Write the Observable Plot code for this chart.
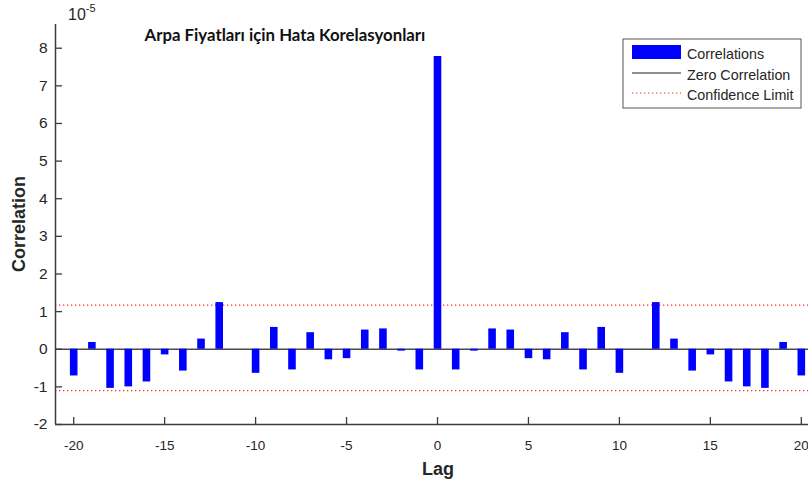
<!DOCTYPE html>
<html><head><meta charset="utf-8">
<script src="https://cdn.jsdelivr.net/npm/d3@7"></script>
<script src="https://cdn.jsdelivr.net/npm/@observablehq/plot@0.6"></script>
<style>html,body{margin:0;padding:0;background:#fff;overflow:hidden;}</style>
</head><body><div id="chart"></div>
<script>
// Correlation values are in units of 10^-5
const lags = [-20,-19,-18,-17,-16,-15,-14,-13,-12,-11,-10,-9,-8,-7,-6,-5,-4,-3,-2,-1,0,1,2,3,4,5,6,7,8,9,10,11,12,13,14,15,16,17,18,19,20];
const correlations = [-0.71,0.18,-1.04,-1.00,-0.87,-0.15,-0.58,0.27,1.24,0,-0.64,0.58,-0.55,0.44,-0.28,-0.25,0.51,0.54,-0.05,-0.55,7.78,-0.55,-0.05,0.54,0.51,-0.25,-0.28,0.44,-0.55,0.58,-0.64,0,1.24,0.27,-0.58,-0.15,-0.87,-1.00,-1.04,0.18,-0.71];
const confidenceLimits = [1.17, -1.10];
const zeroLine = [0];
const xTicks = [-20,-15,-10,-5,0,5,10,15,20];
const yTicks = [-2,-1,0,1,2,3,4,5,6,7,8];
const titleText = "Arpa Fiyatları için Hata Korelasyonları";
const xLabel = "Lag";
const yLabel = "Correlation";
const exponentBase = "10";
const exponentPower = "-5";
const legendLabels = ["Correlations", "Zero Correlation", "Confidence Limit"];

const data = lags.map((lag, i) => ({lag, value: correlations[i]}));
const axisColor = "#3c3c3c";
const textColor = "#262626";
const W = 808, H = 484, ML = 55, MT = 24, MB = 60;
const fmt = d => String(d);

const chart = Plot.plot({
  width: W, height: H,
  marginLeft: ML, marginRight: 0, marginTop: MT, marginBottom: MB,
  style: {fontFamily: "'Liberation Sans', Arial, sans-serif", fontSize: "14px", color: textColor, background: "#fff", overflow: "hidden"},
  x: {domain: [-21, 21], range: [55, 819]},
  y: {domain: [-2, 8.63], range: [424, 24]},
  marks: [
    Plot.ruleY(confidenceLimits, {stroke: "#ff2a2a", strokeWidth: 1.3, strokeDasharray: "1.3,2.7"}),
    Plot.ruleY(zeroLine, {stroke: "#4a4a4a", strokeWidth: 1.5}),
    Plot.ruleX(data, {x: "lag", y1: 0, y2: "value", stroke: "#0000ff", strokeWidth: 7.6}),
    Plot.ruleX([-21], {stroke: axisColor, strokeWidth: 1.5}),
    Plot.ruleY([-2], {stroke: axisColor, strokeWidth: 1.5}),
    Plot.tickY(yTicks, {y: d => d, stroke: axisColor, strokeWidth: 1.3, insetRight: W - ML - 7}),
    Plot.tickX(xTicks, {x: d => d, stroke: axisColor, strokeWidth: 1.3, insetTop: H - MT - MB - 7}),
    Plot.axisY({ticks: yTicks, tickFormat: fmt, tickSize: 0, tickPadding: 8, label: null, fontSize: 15.5, fill: textColor}),
    Plot.axisX({ticks: xTicks, tickFormat: fmt, tickSize: 0, tickPadding: 16, label: null, fontSize: 13.5, fill: textColor})
  ]
});
document.getElementById("chart").append(chart);

const svg = d3.select(chart);
const sans = "'Liberation Sans', Arial, sans-serif";
// title
svg.append("text").attr("x", 285).attr("y", 41).attr("text-anchor", "middle")
  .attr("font-family", "Lato, 'Open Sans', sans-serif").attr("font-weight", "bold").attr("font-size", 16.8)
  .attr("fill", "#111").text(titleText);
// exponent
const ex = svg.append("text").attr("x", 68).attr("y", 20).attr("text-anchor", "start").attr("font-family", sans).attr("font-size", 16).attr("fill", textColor);
ex.append("tspan").text(exponentBase);
ex.append("tspan").attr("font-size", 11).attr("dy", -8).text(exponentPower);
// axis labels
svg.append("text").attr("transform", "translate(25,224) rotate(-90)").attr("text-anchor", "middle")
  .attr("font-family", sans).attr("font-weight", "bold").attr("font-size", 18)
  .attr("fill", textColor).text(yLabel);
svg.append("text").attr("x", 438).attr("y", 475).attr("text-anchor", "middle")
  .attr("font-family", sans).attr("font-weight", "bold").attr("font-size", 18)
  .attr("fill", textColor).text(xLabel);
// legend
const lg = svg.append("g").attr("font-family", sans).attr("font-size", 14.3).attr("fill", textColor).attr("text-anchor", "start");
lg.append("rect").attr("x", 623).attr("y", 39).attr("width", 178).attr("height", 69).attr("fill", "#fff").attr("stroke", "#555").attr("stroke-width", 1);
lg.append("rect").attr("x", 632).attr("y", 45).attr("width", 49).attr("height", 14).attr("fill", "#0000ff");
lg.append("line").attr("x1", 632).attr("x2", 681).attr("y1", 73).attr("y2", 73).attr("stroke", "#222").attr("stroke-width", 1.2);
lg.append("line").attr("x1", 632).attr("x2", 681).attr("y1", 93).attr("y2", 93).attr("stroke", "#ff2a2a").attr("stroke-width", 1.2).attr("stroke-dasharray", "1.3,2.7");
legendLabels.forEach((t, i) => {
  lg.append("text").attr("x", 687).attr("y", 54 + i * 20.5).attr("dy", "0.35em").text(t);
});
</script></body></html>
